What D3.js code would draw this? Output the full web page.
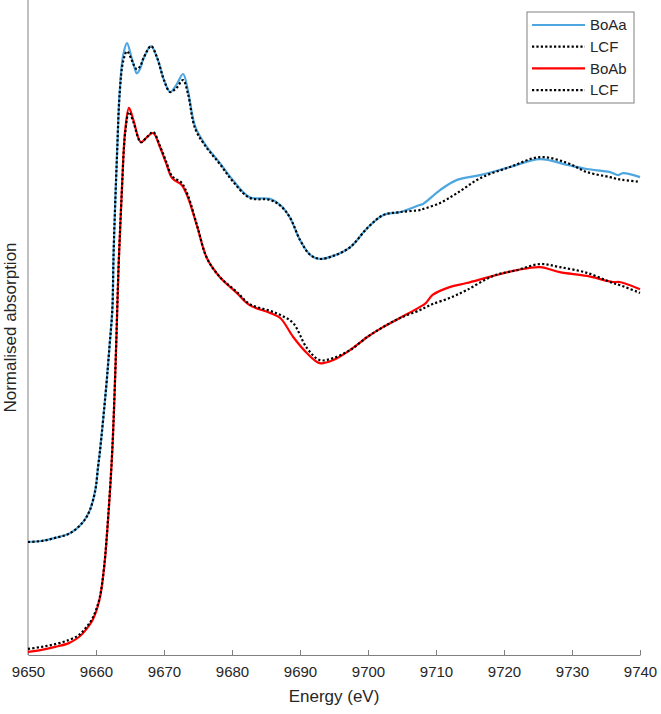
<!DOCTYPE html>
<html>
<head>
<meta charset="utf-8">
<script src="https://cdn.jsdelivr.net/npm/d3@7"></script>
<style>
  body { margin: 0; background: #fff; }
  text { font-family: "Liberation Sans", Arial, sans-serif; }
</style>
</head>
<body>
<script>
// energies (eV) for sample BoAa and its LCF fit
const energyA = [9650, 9652, 9654, 9656.2, 9658.1, 9659.1, 9659.9, 9660.3, 9660.6, 9661.5, 9662.0, 9662.4, 9662.6,
  9663.1, 9663.5, 9664.0, 9664.56, 9665.2, 9665.6, 9666.0, 9666.5, 9667.0, 9668.1, 9669.0, 9670.0, 9670.9, 9671.8, 9672.8, 9673.5,
  9674.6, 9676.3, 9678.2, 9680.1, 9682.6, 9685.6, 9687.1, 9688.5, 9690, 9691.5, 9692.9, 9694.9, 9697.4, 9699.9,
  9702.2, 9704.7, 9707.6, 9708.1, 9710.6, 9713.1, 9716.5, 9720.9, 9725.3, 9729.3, 9732.2, 9735.6, 9736.8, 9737.5, 9740];
const boAa = [0.333, 0.336, 0.345, 0.359, 0.392, 0.427, 0.486, 0.554, 0.604, 0.790, 0.913, 1.017, 1.193,
  1.479, 1.665, 1.768, 1.803, 1.762, 1.735, 1.714, 1.728, 1.759, 1.794, 1.759, 1.694, 1.659, 1.679, 1.712, 1.665,
  1.556, 1.497, 1.450, 1.400, 1.349, 1.344, 1.326, 1.290, 1.223, 1.179, 1.167, 1.176, 1.202, 1.258,
  1.296, 1.305, 1.326, 1.329, 1.370, 1.400, 1.414, 1.438, 1.461, 1.444, 1.432, 1.423, 1.414, 1.420, 1.408];
const lcfA = [0.333, 0.336, 0.345, 0.359, 0.392, 0.427, 0.486, 0.554, 0.604, 0.790, 0.913, 1.017, 1.193,
  1.479, 1.660, 1.750, 1.779, 1.756, 1.737, 1.726, 1.735, 1.759, 1.794, 1.759, 1.694, 1.659, 1.670, 1.694, 1.656,
  1.550, 1.494, 1.447, 1.396, 1.347, 1.341, 1.324, 1.290, 1.223, 1.179, 1.167, 1.176, 1.202, 1.258,
  1.296, 1.305, 1.311, 1.314, 1.332, 1.361, 1.405, 1.438, 1.467, 1.450, 1.423, 1.408, 1.402, 1.400, 1.394];

// energies (eV) for sample BoAb and its LCF fit
const energyB = [9650, 9652, 9654, 9656, 9657.5, 9658.5, 9659.5, 9660.5, 9661.2, 9661.8, 9662.4, 9662.9, 9663.3,
  9663.8, 9664.3, 9664.85, 9665.5, 9666.6, 9667.5, 9668.4, 9669.4, 9670.3, 9671.2, 9672.6, 9673.5, 9674.9,
  9676.3, 9678.2, 9680.7, 9682.6, 9685.6, 9687.1, 9689.0, 9691.0, 9692.9, 9694.9, 9697.4, 9699.9, 9702.2,
  9704.7, 9707.6, 9708.5, 9709.5, 9712.0, 9714.5, 9718.4, 9721.9, 9725.3, 9728.2, 9732.2, 9736.0, 9737.0, 9740];
const boAb = [0.009, 0.015, 0.024, 0.035, 0.053, 0.074, 0.103, 0.162, 0.259, 0.407, 0.604, 0.869, 1.134,
  1.370, 1.547, 1.612, 1.576, 1.511, 1.526, 1.538, 1.497, 1.450, 1.405, 1.385, 1.349, 1.261,
  1.170, 1.114, 1.067, 1.031, 1.008, 0.993, 0.937, 0.890, 0.860, 0.869, 0.899, 0.937, 0.966,
  0.993, 1.025, 1.037, 1.061, 1.084, 1.096, 1.117, 1.134, 1.143, 1.128, 1.117, 1.099, 1.099, 1.078];
const lcfB = [0.018, 0.024, 0.032, 0.044, 0.059, 0.080, 0.109, 0.165, 0.262, 0.410, 0.607, 0.872, 1.134,
  1.365, 1.540, 1.600, 1.570, 1.511, 1.526, 1.541, 1.500, 1.455, 1.411, 1.391, 1.355, 1.263,
  1.170, 1.114, 1.070, 1.034, 1.014, 1.002, 0.978, 0.905, 0.869, 0.875, 0.899, 0.937, 0.966,
  0.993, 1.016, 1.025, 1.034, 1.052, 1.075, 1.117, 1.134, 1.152, 1.143, 1.126, 1.096, 1.090, 1.067];

const xTicks = [9650, 9660, 9670, 9680, 9690, 9700, 9710, 9720, 9730, 9740];
const legendNames = ["BoAa", "LCF", "BoAb", "LCF"];

const width = 661, height = 714;
const margin = {left: 28, right: 21, top: 0, bottom: 59};

const svg = d3.select("body").append("svg")
    .attr("width", width)
    .attr("height", height);

const x = d3.scaleLinear()
    .domain([9650, 9740])
    .range([margin.left, width - margin.right]);

const y = d3.scaleLinear()
    .domain([0, 1.93])
    .range([height - margin.bottom, margin.top]);

// bottom axis with inward ticks
const xAxis = svg.append("g")
    .attr("transform", `translate(0,${height - margin.bottom})`)
    .call(d3.axisBottom(x).tickValues(xTicks).tickFormat(d3.format("d")).tickSizeInner(-5).tickSizeOuter(0).tickPadding(11));
xAxis.select(".domain").attr("stroke", "#808080");
xAxis.selectAll(".tick line").attr("stroke", "#808080");
xAxis.selectAll(".tick text").attr("fill", "#262626").style("font-size", "15px");

// left axis line only, no ticks
svg.append("line")
    .attr("x1", x(9650)).attr("x2", x(9650))
    .attr("y1", y(0)).attr("y2", y(1.93))
    .attr("stroke", "#808080");

svg.append("text")
    .attr("x", (x(9650) + x(9740)) / 2)
    .attr("y", 702)
    .attr("text-anchor", "middle")
    .attr("fill", "#262626")
    .style("font-size", "17px")
    .text("Energy (eV)");

svg.append("text")
    .attr("transform", `translate(16,${(y(0) + y(1.93)) / 2}) rotate(-90)`)
    .attr("text-anchor", "middle")
    .attr("fill", "#262626")
    .style("font-size", "17px")
    .text("Normalised absorption");

const line = (xs) => d3.line()
    .x((d, i) => x(xs[i]))
    .y(d => y(d))
    .curve(d3.curveCatmullRom.alpha(0.5));

const series = [
  {xs: energyA, ys: boAa, color: "#4DA6DF", dash: null},
  {xs: energyA, ys: lcfA, color: "#000", dash: "2.2,2.2"},
  {xs: energyB, ys: boAb, color: "#FF0000", dash: null},
  {xs: energyB, ys: lcfB, color: "#000", dash: "2.2,2.2"}
];

series.forEach(s => {
  svg.append("path")
      .datum(s.ys)
      .attr("fill", "none")
      .attr("stroke", s.color)
      .attr("stroke-width", 2.2)
      .attr("stroke-dasharray", s.dash)
      .attr("d", line(s.xs));
});

// legend
const legend = svg.append("g");
legend.append("rect")
    .attr("x", 527).attr("y", 12)
    .attr("width", 107).attr("height", 91)
    .attr("fill", "#fff")
    .attr("stroke", "#808080");

series.forEach((s, i) => {
  const ly = 25 + i * 21.7;
  legend.append("line")
      .attr("x1", 532).attr("x2", 585)
      .attr("y1", ly).attr("y2", ly)
      .attr("stroke", s.color)
      .attr("stroke-width", 2.2)
      .attr("stroke-dasharray", s.dash);
  legend.append("text")
      .attr("x", 590).attr("y", ly)
      .attr("dy", "0.35em")
      .attr("fill", "#262626")
      .style("font-size", "15px")
      .text(legendNames[i]);
});
</script>
</body>
</html>
